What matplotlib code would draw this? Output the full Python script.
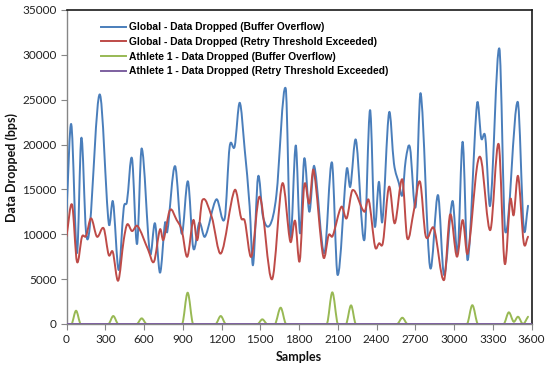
"""
Data dropped per sample: global vs athlete 1, buffer overflow vs retry threshold.
Excel-style smoothed line chart.
"""

import matplotlib
matplotlib.use('Agg')
import matplotlib.pyplot as plt
import numpy as np
from matplotlib.path import Path
from matplotlib.patches import PathPatch
from matplotlib.lines import Line2D

# --- data (sample index, bps) ---
global_buf_x = [0, 37, 81, 115, 151, 180, 257, 327, 360, 404, 443, 468, 507, 546,
                582, 646, 685, 724, 763, 780, 840, 892, 940, 982, 1028, 1072, 1160,
                1225, 1263, 1302, 1341, 1380, 1418, 1444, 1483, 1521, 1575, 1625,
                1697, 1733, 1775, 1808, 1841, 1880, 1918, 1996, 2055, 2099, 2169,
                2197, 2241, 2306, 2350, 2385, 2419, 2445, 2497, 2535, 2574, 2600,
                2626, 2659, 2703, 2742, 2814, 2876, 2923, 2988, 3029, 3067, 3106,
                3178, 3211, 3242, 3281, 3351, 3397, 3493, 3540, 3573]
global_buf_y = [12500, 22250, 7900, 20750, 10280, 10800, 25590, 11220, 13630, 6015,
                12920, 13630, 18460, 8910, 19570, 7870, 11220, 5720, 11290, 10280,
                17600, 10060, 15900, 8430, 11290, 9730, 13890, 11780, 19760, 19800,
                24660, 19390, 13070, 6570, 16410, 11950, 11030, 14370, 26260, 9730,
                19900, 10100, 18460, 12510, 17600, 7870, 18010, 5460, 17230, 15300,
                20500, 9360, 23840, 11000, 15850, 11400, 23540, 17900, 15670, 14370,
                18270, 19680, 13070, 25700, 6380, 14370, 5460, 13700, 8050, 20310,
                7130, 24500, 20690, 20860, 13260, 30710, 10280, 24770, 10660, 13180]

global_retry_x = [0, 43, 81, 120, 151, 190, 236, 288, 327, 358, 400, 443, 470, 507,
                  550, 633, 677, 724, 750, 801, 853, 892, 935, 982, 1013, 1052, 1124,
                  1196, 1302, 1353, 1380, 1431, 1496, 1591, 1671, 1733, 1770, 1805,
                  1841, 1880, 1913, 1988, 2030, 2060, 2128, 2169, 2215, 2306, 2340,
                  2389, 2420, 2450, 2497, 2541, 2600, 2638, 2690, 2737, 2781, 2845,
                  2923, 2970, 3023, 3067, 3106, 3178, 3211, 3281, 3346, 3392, 3436,
                  3462, 3496, 3540, 3573]
global_retry_y = [9800, 13300, 6940, 9730, 9800, 11780, 9730, 10660, 7690, 8050,
                  4830, 9360, 11110, 10360, 10920, 8240, 6940, 10550, 9360, 12700,
                  11590, 10470, 7500, 11590, 9360, 13810, 11950, 7870, 14930, 11780,
                  11500, 7500, 14180, 4980, 15670, 9170, 11500, 7000, 15490, 13440,
                  17160, 7500, 9920, 9800, 13070, 11780, 14930, 12510, 13810, 8610,
                  9000, 9100, 15300, 11220, 16120, 9550, 12700, 15850, 9800, 10660,
                  4900, 12200, 7500, 11590, 7870, 17530, 18270, 10470, 20050, 6760,
                  13890, 12140, 16490, 9060, 9730]

athlete_buf_x = [0, 40, 74, 110, 325, 362, 400, 545, 582, 620, 895, 938, 980, 1155,
                 1194, 1233, 1480, 1516, 1552, 1615, 1658, 1700, 2015, 2058, 2100,
                 2165, 2203, 2240, 2560, 2600, 2640, 3100, 3142, 3185, 3385, 3424,
                 3462, 3496, 3534, 3573]
athlete_buf_y = [0, 0, 1480, 0, 0, 890, 0, 0, 630, 0, 0, 3490, 0, 0, 890, 0, 0, 520,
                 0, 0, 1820, 0, 0, 3530, 0, 0, 2080, 0, 0, 700, 0, 0, 2100, 0, 0,
                 1300, 250, 810, 0, 810]

athlete_retry_x = [0, 3600]
athlete_retry_y = [0, 0]

labels = ['Global - Data Dropped (Buffer Overflow)',
          'Global - Data Dropped (Retry Threshold Exceeded)',
          'Athlete 1 - Data Dropped (Buffer Overflow)',
          'Athlete 1 - Data Dropped (Retry Threshold Exceeded)']
colors = ['#4A7EBB', '#BE4B48', '#98B954', '#7D60A0']


def smooth_path(xs, ys):
    # cubic Hermite segments as Bezier curves (Excel "smoothed line" look)
    xs = np.asarray(xs, float)
    ys = np.asarray(ys, float)
    n = len(xs)
    m = np.zeros(n)
    if n > 2:
        m[1:-1] = (ys[2:] - ys[:-2]) / (xs[2:] - xs[:-2])
    m[0] = (ys[1] - ys[0]) / (xs[1] - xs[0])
    m[-1] = (ys[-1] - ys[-2]) / (xs[-1] - xs[-2])
    verts = [(xs[0], ys[0])]
    codes = [Path.MOVETO]
    for i in range(n - 1):
        h = xs[i + 1] - xs[i]
        verts += [(xs[i] + h / 3, ys[i] + m[i] * h / 3),
                  (xs[i + 1] - h / 3, ys[i + 1] - m[i + 1] * h / 3),
                  (xs[i + 1], ys[i + 1])]
        codes += [Path.CURVE4] * 3
    return Path(verts, codes)


fig = plt.figure(figsize=(5.5, 3.71), dpi=100)
ax = fig.add_axes([66.5 / 550, 1 - 324 / 371, 465 / 550, 314 / 371])

series = [(global_buf_x, global_buf_y), (global_retry_x, global_retry_y),
          (athlete_buf_x, athlete_buf_y), (athlete_retry_x, athlete_retry_y)]
for (xs, ys), c in zip(series, colors):
    ax.add_patch(PathPatch(smooth_path(xs, ys), facecolor='none', edgecolor=c,
                           lw=1.4, capstyle='round', joinstyle='round', zorder=3))

ax.set_xlim(0, 3600)
ax.set_ylim(0, 35000)
ax.set_xticks(np.arange(0, 3601, 300))
ax.set_yticks(np.arange(0, 35001, 5000))

tick_font = 'Lato'
for lab in ax.get_xticklabels() + ax.get_yticklabels():
    lab.set_fontfamily(tick_font)
    lab.set_fontsize(8.5)
    lab.set_color('#222222')
ax.tick_params(axis='both', direction='out', length=4, width=0.8, color='#868686')
ax.tick_params(axis='x', pad=3)
ax.tick_params(axis='y', pad=3)

for side in ['left', 'bottom']:
    ax.spines[side].set_color('#868686')
    ax.spines[side].set_linewidth(1.0)
for side in ['top', 'right']:
    ax.spines[side].set_color('#1a1a1a')
    ax.spines[side].set_linewidth(1.2)

fig.text(12 / 550, 1 - 167 / 371, 'Data Dropped (bps)', rotation=90,
         ha='center', va='center', fontsize=9, fontweight='bold',
         family=tick_font, color='#111111')
fig.text(299 / 550, 1 - 357 / 371, 'Samples', ha='center', va='center',
         fontsize=9, fontweight='bold', family=tick_font, color='#111111')

handles = [Line2D([], [], color=c, lw=1.4) for c in colors]
ax.legend(handles, labels, loc='upper left', bbox_to_anchor=(0.063, 0.977),
          frameon=False, borderpad=0, handlelength=2.45, handletextpad=0.3,
          labelspacing=0.45, prop={'family': 'Liberation Sans', 'weight': 'bold',
                                   'size': 7.4})

plt.savefig('out.png', dpi=100)
